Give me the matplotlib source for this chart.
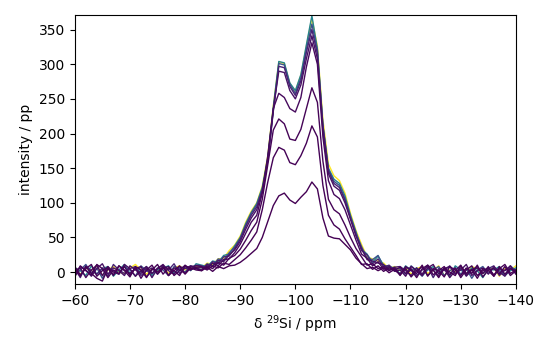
import numpy as np
import matplotlib
matplotlib.use("Agg")
import matplotlib.pyplot as plt

# chemical shift axis, 1 ppm steps from -60 to -140 ppm
shift_ppm = np.arange(-60, -141, -1)

# 29Si spectra of the build-up series (intensity per ppm)
spec_1 = [4, -6, 8, -2, -9, -13, 5, -4, 9, 2, -7, 8, 3, -8, 5, 0, 7, -5, 2, 9, -3, 6, 5,
          2, 7, 1, 8, 5, 9, 10, 14, 20, 27, 34, 50, 73, 96, 110, 114, 104, 99, 108, 116, 130,
          120, 78, 52, 49, 48, 40, 32, 20, 12, 5, 7, 2, 6, -1, 4,
          -4, 5, -7, 2, 8, -5, 3, -8, 6, 0, -5, 9, -2, 4, -9, 5, 2, -6, 8, -3, 5, 0]
spec_2 = [-7, 9, 2, -4, 11, 5, -8, 3, -2, 8, -5, 6, -9, 3, 10, -3, 5, 8, -5, 2, 10, 3, 7,
          7, 3, 9, 6, 13, 11, 18, 25, 35, 46, 58, 90, 130, 165, 180, 176, 158, 155, 168, 186, 211,
          195, 125, 82, 68, 62, 48, 36, 24, 11, 12, 4, 9, 1, 6, 3,
          7, -2, 3, -8, 5, 10, -4, 2, -7, 8, 3, -5, 6, -2, 10, -7, 3, 5, -3, 8, -5, 2]
spec_3 = [8, -4, 5, 11, -6, 2, 7, -5, 9, 3, -2, 5, 8, -7, 3, 11, -3, 6, 2, -5, 9, 6, 3,
          2, 9, 5, 14, 10, 20, 24, 33, 46, 60, 72, 105, 155, 205, 221, 214, 192, 190, 206, 236, 266,
          245, 160, 105, 90, 84, 68, 50, 34, 22, 10, 12, 5, 8, 2, 6,
          -5, 8, 3, -2, 10, -6, 5, 2, 8, -4, 6, -8, 3, 9, -5, 2, 6, -4, 5, 11, -2, 3]
spec_4 = [2, 6, -8, 3, 10, -5, 8, 0, -3, 11, 5, -6, 2, 8, -2, 5, 10, -5, 6, 3, -2, 8, 9,
          8, 5, 13, 9, 18, 19, 28, 40, 56, 72, 82, 114, 168, 236, 258, 252, 236, 231, 252, 296, 331,
          300, 195, 132, 112, 106, 90, 68, 46, 26, 20, 9, 15, 4, 8, 1,
          3, -6, 8, 2, -5, 6, 11, -3, 5, -8, 2, 10, -5, 3, 6, -2, 8, -6, 5, 2, 9, -3]
spec_5 = [-2, 8, 3, -6, 5, 12, -3, 6, 2, -5, 9, 3, -2, 6, -8, 5, 11, 2, -3, 8, 5, 9, 6,
          3, 11, 8, 17, 15, 25, 32, 44, 62, 78, 90, 116, 162, 235, 290, 288, 262, 250, 270, 308, 341,
          308, 205, 142, 124, 118, 100, 76, 52, 34, 18, 16, 13, 11, 3, 7,
          8, 2, -5, 6, -3, 10, 3, -6, 5, 8, -2, 3, 11, -5, 2, 6, -3, 8, 0, -6, 5, 3]
spec_6 = [5, -8, 9, 2, -3, 6, -6, 11, 3, -2, 5, 8, -5, 2, 6, -3, 9, 3, 12, -2, 6, 3, 10,
          9, 6, 15, 12, 22, 23, 34, 47, 66, 82, 94, 118, 160, 232, 297, 295, 268, 255, 276, 317, 350,
          315, 210, 146, 128, 122, 104, 78, 54, 31, 25, 12, 19, 7, 10, 2,
          -2, 6, 5, -5, 3, 8, -8, 5, 2, 9, -3, 6, -6, 3, 8, -2, 5, 9, -5, 3, 6, -2]
spec_7 = [-5, 3, 11, -2, 6, -9, 5, 2, -3, 8, 3, -6, 9, 2, -2, 6, 3, -5, 8, 5, 0, 9, 5,
          4, 12, 9, 19, 17, 28, 36, 49, 68, 85, 97, 120, 162, 233, 301, 299, 271, 258, 280, 322, 358,
          320, 212, 148, 131, 125, 106, 80, 56, 37, 20, 18, 24, 8, 9, 4,
          5, -3, 9, 2, -6, 5, 3, 8, -5, 2, 6, -3, 5, -9, 3, 8, -2, 6, 3, -5, 9, 2]
spec_8 = [6, 2, -5, 9, -3, 5, 8, -6, 3, 11, -2, 5, 0, 8, -5, 3, 6, 9, -2, 5, 8, 2, 12,
          10, 8, 16, 14, 24, 26, 38, 50, 70, 86, 99, 122, 165, 238, 304, 302, 273, 262, 285, 328, 370,
          322, 212, 150, 134, 128, 110, 82, 58, 33, 26, 14, 23, 10, 6, 7,
          -3, 9, 2, 6, -5, 3, 8, -2, 5, -6, 9, 3, -3, 6, 2, -8, 5, 3, 8, -5, 2, 6]
spec_9 = [3, -3, 6, 2, 9, -5, 3, 8, 0, -2, 6, 11, 3, -3, 5, 2, 8, -2, 6, 9, 3, 5, 8,
          6, 13, 11, 19, 20, 31, 39, 52, 72, 88, 100, 124, 168, 240, 303, 301, 272, 261, 284, 326, 366,
          326, 220, 156, 139, 132, 114, 85, 60, 40, 22, 19, 16, 13, 5, 8,
          2, 6, -3, 5, 8, -2, 3, 9, -5, 3, 0, 6, -3, 8, 5, -2, 3, 6, -6, 5, 3, 9]

spectra = [spec_1, spec_2, spec_3, spec_4, spec_5, spec_6, spec_7, spec_8, spec_9]
# position of each spectrum on the viridis scale
cmap_pos = [0.0, 0.005, 0.01, 0.025, 0.05, 0.1, 0.25, 0.45, 1.0]

fig = plt.figure(figsize=(5.5, 3.5), dpi=100)
ax = fig.add_axes([0.136, 0.189, 0.802, 0.768])
cmap = plt.get_cmap("viridis")
# longest build-up first so the early, weak spectra sit on top
for spec, pos in reversed(list(zip(spectra, cmap_pos))):
    ax.plot(shift_ppm, spec, color=cmap(pos), lw=1.0)

ax.set_xlim(-60, -140)
ax.set_ylim(-17, 371)
ax.set_xlabel(r"δ $^{29}$Si / ppm")
ax.set_ylabel("intensity / pp")

fig.savefig("out.png", dpi=100)
